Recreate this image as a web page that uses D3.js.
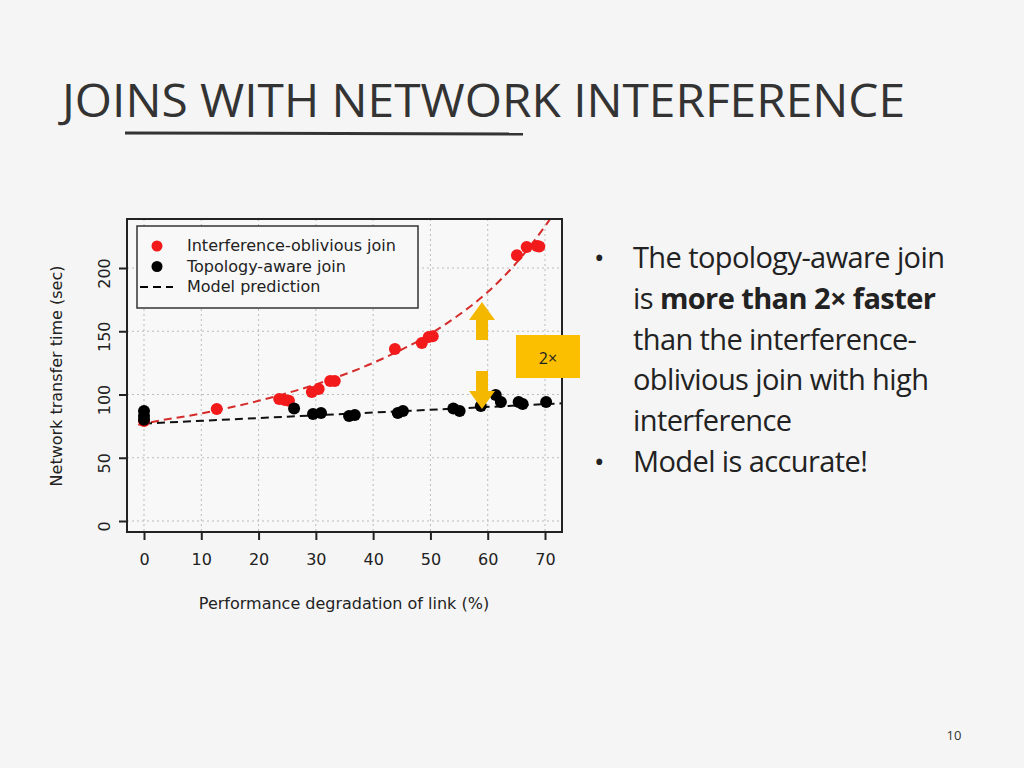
<!DOCTYPE html><html><head><meta charset="utf-8"><script src="https://cdn.jsdelivr.net/npm/d3@7"></script>
<style>body{margin:0;background:#f5f5f5}svg{display:block}</style></head><body><svg width="1024" height="768"></svg>
<script>
const redX=[0,12.7,23.6,24.6,25.3,29.3,30.5,32.5,33.3,43.8,48.5,49.7,50.4,65.1,66.8,68.6,69];
const redY=[79,88.5,96.4,95.6,95,102,104.3,110.7,110.7,136,140.7,145.5,146,210,216.6,217.4,217];
const blackX=[0,0,0,26.2,29.5,30.9,35.8,36.8,44.3,45.2,54,55.1,58.8,61.4,62.3,65.4,66.1,70.2];
const blackY=[87,83,80,89,84.6,85.4,83,83.8,85.4,87,89,87,91,99.6,94,94,92.5,94];
const modelRedX=[-1,0,10,20,30,40,50,55,60,65,70,72];
const modelRedY=[76,77,85,95,108,125,148,163,181,204,233,246];
const modelBlackX=[0,73];
const modelBlackY=[77,93];
const xTicks=[0,10,20,30,40,50,60,70];
const yTicks=[0,50,100,150,200];
const bullets=[[[["The topology-aware join",0]],[["is ",0],["more than 2× faster",1]],[["than the interference-",0]],[["oblivious join with high",0]],[["interference",0]]],[[["Model is accurate!",0]]]];

const svg=d3.select("svg");
svg.append("text").attr("x",62).attr("y",117).attr("font-family","Open Sans").attr("font-size",46).attr("fill","#333").attr("textLength",843).attr("lengthAdjust","spacingAndGlyphs").text("JOINS WITH NETWORK INTERFERENCE");
svg.append("line").attr("x1",125).attr("x2",523).attr("y1",133).attr("y2",134).attr("stroke","#333").attr("stroke-width",3);

const L=127,R=562,T=219,B=532;
const x=d3.scaleLinear().domain([0,70]).range([144,545]);
const y=d3.scaleLinear().domain([0,200]).range([521,268]);
const g=svg.append("g");
g.append("rect").attr("x",L).attr("y",T).attr("width",R-L).attr("height",B-T).attr("fill","#f8f8f8");
xTicks.forEach(t=>g.append("line").attr("x1",x(t)).attr("x2",x(t)).attr("y1",T).attr("y2",B).attr("stroke","#bbb").attr("stroke-dasharray","2,3"));
yTicks.forEach(t=>g.append("line").attr("y1",y(t)).attr("y2",y(t)).attr("x1",L).attr("x2",R).attr("stroke","#bbb").attr("stroke-dasharray","2,3"));
svg.append("clipPath").attr("id","c").append("rect").attr("x",L).attr("y",T).attr("width",R-L).attr("height",B-T);
const line=d3.line().x(d=>x(d[0])).y(d=>y(d[1])).curve(d3.curveMonotoneX);
g.append("path").attr("clip-path","url(#c)").attr("d",line(modelRedX.map((v,i)=>[v,modelRedY[i]]))).attr("fill","none").attr("stroke","#d62b2b").attr("stroke-width",2).attr("stroke-dasharray","8,5");
g.append("path").attr("d",line(modelBlackX.map((v,i)=>[v,modelBlackY[i]]))).attr("fill","none").attr("stroke","#111").attr("stroke-width",2).attr("stroke-dasharray","8,5");
redX.forEach((v,i)=>g.append("circle").attr("cx",x(v)).attr("cy",y(redY[i])).attr("r",6).attr("fill","#f21a1a"));
blackX.forEach((v,i)=>g.append("circle").attr("cx",x(v)).attr("cy",y(blackY[i])).attr("r",6).attr("fill","#000"));
g.append("rect").attr("x",L).attr("y",T).attr("width",R-L).attr("height",B-T).attr("fill","none").attr("stroke","#222").attr("stroke-width",2);
const xa=g.append("g").attr("transform",`translate(0,${B})`).call(d3.axisBottom(x).tickValues(xTicks).tickSize(8).tickPadding(14));
const ya=g.append("g").attr("transform",`translate(${L},0)`).call(d3.axisLeft(y).tickValues(yTicks).tickSize(8).tickPadding(6));
[xa,ya].forEach(a=>{a.select(".domain").remove();a.selectAll("line").attr("stroke","#222").attr("stroke-width",2);a.selectAll("text").attr("font-family","DejaVu Sans").attr("font-size",16).attr("fill","#222");});
ya.selectAll(".tick text").each(function(){d3.select(this).attr("text-anchor","middle").attr("x",-27).attr("dy",0).attr("y",0).attr("transform","rotate(-90,-22,0) translate(0,5)");});
svg.append("text").attr("x",344).attr("y",609).attr("text-anchor","middle").attr("font-family","DejaVu Sans").attr("font-size",16).attr("fill","#222").text("Performance degradation of link (%)");
svg.append("text").attr("transform","translate(62,376) rotate(-90)").attr("text-anchor","middle").attr("font-family","DejaVu Sans").attr("font-size",16).attr("fill","#222").text("Network transfer time (sec)");
g.append("rect").attr("x",137).attr("y",226).attr("width",281).attr("height",82).attr("fill","#f8f8f8").attr("stroke","#333").attr("stroke-width",1.5);
const lg=[["Interference-oblivious join","#f21a1a","pt"],["Topology-aware join","#000","pt"],["Model prediction","#000","ln"]];
lg.forEach((d,i)=>{const yy=246+i*20.5;
 if(d[2]=="pt")g.append("circle").attr("cx",157).attr("cy",yy).attr("r",5.5).attr("fill",d[1]);
 else g.append("line").attr("x1",140).attr("x2",173).attr("y1",yy).attr("y2",yy).attr("stroke","#000").attr("stroke-width",2).attr("stroke-dasharray","8,5");
 g.append("text").attr("x",187).attr("y",yy+5).attr("font-family","DejaVu Sans").attr("font-size",16).attr("fill","#222").text(d[0]);});
const ar=(cx,tip,h)=>{svg.append("path").attr("d",`M${cx},${tip} L${cx+13},${tip+18*h} L${cx+6},${tip+18*h} L${cx+6},${tip+38*h} L${cx-6},${tip+38*h} L${cx-6},${tip+18*h} L${cx-13},${tip+18*h}Z`).attr("fill","#f5b800");};
ar(482,302,1);ar(482,409,-1);
svg.append("rect").attr("x",516).attr("y",335).attr("width",64).attr("height",43).attr("fill","#fbbf00");
svg.append("text").attr("x",548).attr("y",364).attr("text-anchor","middle").attr("font-family","Open Sans").attr("font-size",16).attr("fill","#222").text("2×");
let yy=268;
bullets.forEach(b=>{svg.append("text").attr("x",594).attr("y",yy).attr("font-family","Open Sans").attr("font-size",28).attr("fill","#222").text("•");
 b.forEach(l=>{const t=svg.append("text").attr("x",633).attr("y",yy).attr("font-family","Open Sans").attr("font-size",29).attr("letter-spacing",-0.6).attr("fill","#222");
  l.forEach(s=>t.append("tspan").attr("font-weight",s[1]?700:400).text(s[0]));yy+=40.8;});});
svg.append("text").attr("x",954).attr("y",740).attr("text-anchor","middle").attr("font-family","Open Sans").attr("font-size",13).attr("fill","#333").text("10");
</script></body></html>
